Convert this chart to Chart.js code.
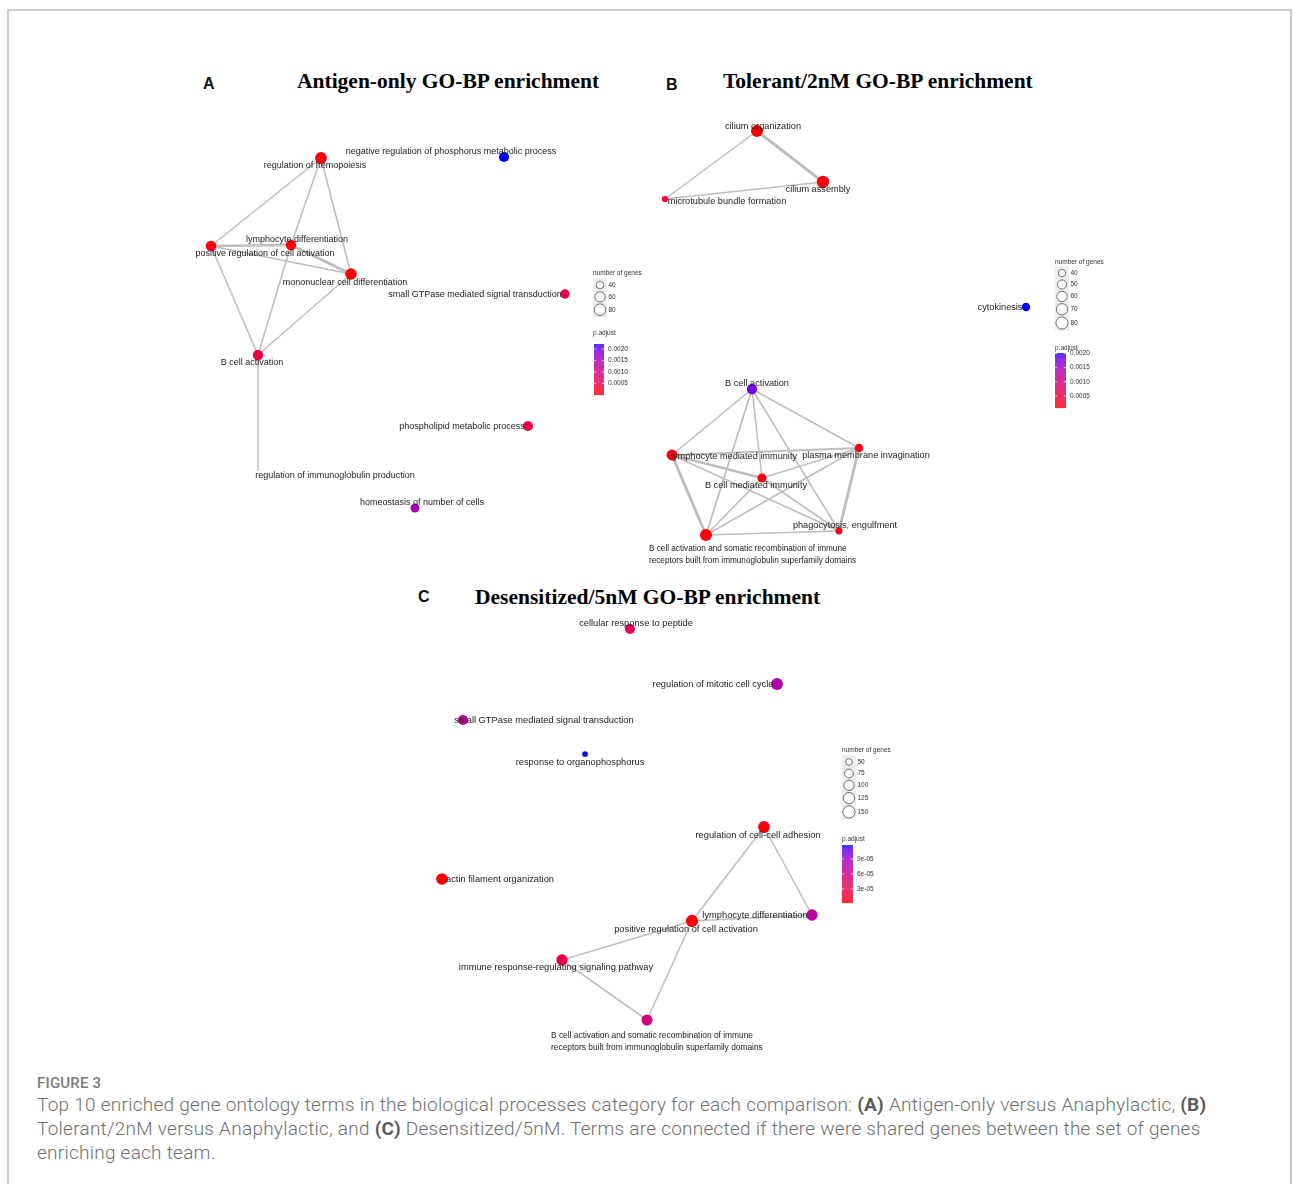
<!DOCTYPE html>
<html>
<head>
<meta charset="utf-8">
<title>GO-BP enrichment maps</title>
<script src="https://cdn.jsdelivr.net/npm/chart.js@4.4.1/dist/chart.umd.min.js"></script>
<style>
  html, body { margin: 0; padding: 0; background: #fff; width: 1293px; height: 1184px; overflow: hidden; position: relative; }
  #frame { position: absolute; left: 7px; top: 9px; width: 1285px; height: 1300px; box-sizing: border-box; border: 2px solid #cbcbcb; }
  canvas { position: absolute; }
  .letter { position: absolute; font: bold 16px "Liberation Sans", Arial, sans-serif; line-height: 16px; color: #111; }
  .title { position: absolute; font: bold 21.5px "Liberation Serif", "Times New Roman", serif; line-height: 21px; color: #000; white-space: nowrap; }
  #figlabel { position: absolute; left: 37px; top: 1073px; font: 500 15px Roboto, "Liberation Sans", sans-serif; line-height: 20px; color: #7a7a7a; letter-spacing: 0.2px; }
  #caption { position: absolute; left: 37px; top: 1093px; font: 300 19px Roboto, "Liberation Sans", sans-serif; line-height: 24px; color: #6e6e6e; white-space: nowrap; letter-spacing: 0.25px; }
  #caption b { font-weight: 700; color: #5a5a5a; }
</style>
</head>
<body>
<div id="frame"></div>

<div class="letter" style="left:203px;top:76px">A</div>
<div class="title" style="left:297px;top:71px">Antigen-only GO-BP enrichment</div>
<div class="letter" style="left:666px;top:77px">B</div>
<div class="title" style="left:723px;top:71px">Tolerant/2nM GO-BP enrichment</div>
<div class="letter" style="left:418px;top:589px">C</div>
<div class="title" style="left:475px;top:587px">Desensitized/5nM GO-BP enrichment</div>

<canvas id="panelA" width="480" height="430" style="left:180px;top:100px"></canvas>
<canvas id="panelB" width="490" height="480" style="left:640px;top:100px"></canvas>
<canvas id="panelC" width="500" height="460" style="left:420px;top:605px"></canvas>

<div id="figlabel">FIGURE 3</div>
<div id="caption">Top 10 enriched gene ontology terms in the biological processes category for each comparison: <b>(A)</b> Antigen-only versus Anaphylactic, <b>(B)</b><br>Tolerant/2nM versus Anaphylactic, and <b>(C)</b> Desensitized/5nM. Terms are connected if there were shared genes between the set of genes<br>enriching each team.</div>

<script>
// ---------------------------------------------------------------
// Panel A: Antigen-only versus Anaphylactic
// ---------------------------------------------------------------
const termsA = [
  'regulation of hemopoiesis',
  'negative regulation of phosphorus metabolic process',
  'lymphocyte differentiation',
  'positive regulation of cell activation',
  'mononuclear cell differentiation',
  'small GTPase mediated signal transduction',
  'B cell activation',
  'phospholipid metabolic process',
  'regulation of immunoglobulin production',
  'homeostasis of number of cells'
];
// network layout coordinates
const layoutXA = [141, 324, 111, 31, 171, 385, 78, 348, 78, 235];
const layoutYA = [58, 57, 145, 146, 174, 194, 255, 326, 371, 408];
// number of genes (null = no marker drawn)
const countsA = [86, 60, 62, 66, 80, 52, 62, 58, null, 48];
const padjA = [7e-5, 2.22e-3, 2.5e-5, 9e-5, 2e-6, 4.9e-4, 4.4e-4, 4.5e-4, null, 1.51e-3];
// term-term edges (shared genes) and their similarity weight
const edgeFromA = [0, 0, 2, 0, 3, 3, 2, 3, 4, 6];
const edgeToA   = [3, 2, 6, 4, 2, 4, 4, 6, 6, 8];
const edgeSimA  = [0.25, 0.25, 0.25, 0.25, 0.6, 0.25, 0.75, 0.25, 0.25, 0.25];
const sizeBreaksA = [40, 60, 80];
const padjBreaksA = [0.0005, 0.0010, 0.0015, 0.0020];
const padjTickLabelsA = ['0.0005', '0.0010', '0.0015', '0.0020'];

// ---------------------------------------------------------------
// Panel B: Tolerant/2nM versus Anaphylactic
// ---------------------------------------------------------------
const termsB = [
  'cilium organization',
  'cilium assembly',
  'microtubule bundle formation',
  'cytokinesis',
  'B cell activation',
  'lymphocyte mediated immunity',
  'plasma membrane invagination',
  'B cell mediated immunity',
  'phagocytosis, engulfment',
  'B cell activation and somatic recombination of immune receptors built from immunoglobulin superfamily domains'
];
const layoutXB = [117, 183, 25, 386, 112, 32, 219, 122, 199, 66];
const layoutYB = [31, 82, 99, 207, 289, 355, 348, 378, 431, 435];
const countsB = [78, 84, 37, 45, 60, 66, 46, 50, 39, 78];
const padjB = [7e-5, 9e-5, 3.0e-4, 2.02e-3, 1.77e-3, 1.1e-4, 1.3e-4, 1.1e-4, 1.3e-4, 9e-5];
const edgeFromB = [0, 0, 2, 4, 4, 4, 4, 4, 5, 5, 5, 5, 6, 6, 6, 7, 7, 8];
const edgeToB   = [1, 2, 1, 5, 6, 7, 8, 9, 6, 7, 8, 9, 7, 8, 9, 8, 9, 9];
const edgeSimB  = [0.7, 0.25, 0.25, 0.25, 0.25, 0.25, 0.25, 0.3, 0.45, 0.55, 0.25, 0.7, 0.25, 0.7, 0.25, 0.25, 0.3, 0.3];
const sizeBreaksB = [40, 50, 60, 70, 80];
const padjBreaksB = [0.0005, 0.0010, 0.0015, 0.0020];
const padjTickLabelsB = ['0.0005', '0.0010', '0.0015', '0.0020'];

// ---------------------------------------------------------------
// Panel C: Desensitized/5nM
// ---------------------------------------------------------------
const termsC = [
  'cellular response to peptide',
  'regulation of mitotic cell cycle',
  'small GTPase mediated signal transduction',
  'response to organophosphorus',
  'regulation of cell-cell adhesion',
  'actin filament organization',
  'lymphocyte differentiation',
  'positive regulation of cell activation',
  'immune response-regulating signaling pathway',
  'B cell activation and somatic recombination of immune receptors built from immunoglobulin superfamily domains'
];
const layoutXC = [210, 357, 43, 165, 344, 22, 392, 272, 142, 227];
const layoutYC = [24, 79, 115, 149, 222, 274, 310, 316, 355, 415];
const countsC = [96, 140, 100, 46, 138, 132, 128, 152, 126, 118];
const padjC = [3.5e-5, 7.9e-5, 6.6e-5, 1.18e-4, 5.5e-6, 2e-6, 6.9e-5, 4e-6, 2.5e-5, 5.4e-5];
const edgeFromC = [4, 4, 7, 7, 7, 8];
const edgeToC   = [7, 6, 6, 8, 9, 9];
const edgeSimC  = [0.25, 0.25, 0.25, 0.25, 0.25, 0.25];
const sizeBreaksC = [50, 75, 100, 125, 150];
const padjBreaksC = [3e-5, 6e-5, 9e-5];
const padjTickLabelsC = ['3e-05', '6e-05', '9e-05'];

// ---------------------------------------------------------------
// Presentation: label nudges (px from node), size scales, legend boxes
// ---------------------------------------------------------------
const labelNudgeA = [[-6, 7], [-53, -6], [6, -6], [54, 7], [-6, 8], [-90, 0], [-6, 7], [-66, 0], [77, 4], [7, -6]];
const labelNudgeB = [[6, -5], [-5, 7], [62, 2], [-26, 0], [5, -6], [62, 1], [7, 7], [-6, 7], [6, -6], [-57, 14]];
const labelNudgeC = [[6, -6], [-64, 0], [81, 0], [-5, 8], [-6, 8], [58, 0], [-57, 0], [-6, 8], [-6, 7], [-96, 16]];

const styleA = { sizeLimits: [38, 88], radiusRange: [3.3, 6.0], labelSize: 9, wrappedLabelSize: 8.3, labelShift: 1,
  legend: { x: 413, titleY: 173, firstKeyY: 185, padjTitleY: 233, barX: 414, barY: 244, barW: 10, barH: 51 } };
const styleB = { sizeLimits: [36, 86], radiusRange: [2.6, 6.3], labelSize: 9.2, wrappedLabelSize: 8.2, labelShift: 0,
  legend: { x: 415, titleY: 162, firstKeyY: 173, padjTitleY: 248, barX: 415, barY: 253, barW: 11, barH: 55 } };
const styleC = { sizeLimits: [45, 155], radiusRange: [2.5, 6.2], labelSize: 9.3, wrappedLabelSize: 8.4, labelShift: 0,
  legend: { x: 422, titleY: 145, firstKeyY: 157, padjTitleY: 234, barX: 422, barY: 240, barW: 11, barH: 58 } };

const LABEL_FAMILY = '"Liberation Sans", Arial, sans-serif';
const LEGEND_FONT = '6.5px "Liberation Sans", Arial, sans-serif';
const EDGE_COLOR = '#bebebe';
const WRAP_CHARS = 55;

// ---------------------------------------------------------------
// Colour scale: red (low p.adjust) to blue (high), interpolated in CIELAB
// ---------------------------------------------------------------
function toLinear(c) { c /= 255; return c <= 0.04045 ? c / 12.92 : Math.pow((c + 0.055) / 1.055, 2.4); }
function fromLinear(c) {
  const v = c <= 0.0031308 ? 12.92 * c : 1.055 * Math.pow(c, 1 / 2.4) - 0.055;
  return Math.round(Math.max(0, Math.min(1, v)) * 255);
}
function rgbToLab(rgb) {
  const R = toLinear(rgb[0]), G = toLinear(rgb[1]), B = toLinear(rgb[2]);
  const X = (0.4124564 * R + 0.3575761 * G + 0.1804375 * B) / 0.95047;
  const Y = (0.2126729 * R + 0.7151522 * G + 0.0721750 * B);
  const Z = (0.0193339 * R + 0.1191920 * G + 0.9503041 * B) / 1.08883;
  const f = t => t > 0.008856 ? Math.cbrt(t) : (7.787 * t + 16 / 116);
  const fx = f(X), fy = f(Y), fz = f(Z);
  return [116 * fy - 16, 500 * (fx - fy), 200 * (fy - fz)];
}
function labToRgb(lab) {
  const fy = (lab[0] + 16) / 116, fx = fy + lab[1] / 500, fz = fy - lab[2] / 200;
  const inv = t => { const t3 = t * t * t; return t3 > 0.008856 ? t3 : (t - 16 / 116) / 7.787; };
  const X = inv(fx) * 0.95047, Y = inv(fy), Z = inv(fz) * 1.08883;
  return [
    fromLinear( 3.2404542 * X - 1.5371385 * Y - 0.4985314 * Z),
    fromLinear(-0.9692660 * X + 1.8760108 * Y + 0.0415560 * Z),
    fromLinear( 0.0556434 * X - 0.2040259 * Y + 1.0572252 * Z)
  ];
}
const LAB_LOW = rgbToLab([255, 0, 0]);
const LAB_HIGH = rgbToLab([0, 0, 255]);
function rampColor(t) {
  t = Math.max(0, Math.min(1, t));
  const lab = [0, 1, 2].map(i => LAB_LOW[i] + (LAB_HIGH[i] - LAB_LOW[i]) * t);
  const c = labToRgb(lab);
  return `rgb(${c[0]},${c[1]},${c[2]})`;
}

function wrapWords(text, width) {
  const words = text.split(' ');
  const lines = [];
  let cur = '';
  for (const w of words) {
    if (cur && (cur + ' ' + w).length > width) { lines.push(cur); cur = w; }
    else cur = cur ? cur + ' ' + w : w;
  }
  if (cur) lines.push(cur);
  return lines;
}

// ---------------------------------------------------------------
// One enrichment map per canvas
// ---------------------------------------------------------------
function buildPanel(canvasId, terms, xs, ys, counts, padj, eFrom, eTo, eSim,
                    sizeBreaks, padjBreaks, padjTickLabels, nudges, style) {
  const canvas = document.getElementById(canvasId);
  const W = canvas.width, H = canvas.height;

  const pv = padj.filter(v => v != null);
  const pLo = Math.min(...pv), pHi = Math.max(...pv);
  const colorOf = v => rampColor((v - pLo) / (pHi - pLo));

  const [cLo, cHi] = style.sizeLimits;
  const [rLo, rHi] = style.radiusRange;
  const radiusOf = c => rLo + (rHi - rLo) * Math.sqrt(Math.max(0, Math.min(1, (c - cLo) / (cHi - cLo))));

  const edgeSets = eFrom.map((f, i) => ({
    type: 'scatter',
    showLine: true,
    data: [{ x: xs[f], y: ys[f] }, { x: xs[eTo[i]], y: ys[eTo[i]] }],
    borderColor: EDGE_COLOR,
    borderWidth: 0.8 + 3 * eSim[i],
    pointRadius: 0,
    order: 2,
    clip: false
  }));

  const nodeSet = {
    type: 'scatter',
    data: terms.map((t, i) => ({ x: xs[i], y: ys[i] })),
    pointRadius: counts.map(c => c == null ? 0 : radiusOf(c)),
    backgroundColor: padj.map(v => v == null ? 'rgba(0,0,0,0)' : colorOf(v)),
    borderWidth: 0,
    order: 1,
    clip: false
  };

  const termLabels = {
    id: 'termLabels',
    afterDatasetsDraw(chart) {
      const ctx = chart.ctx, sx = chart.scales.x, sy = chart.scales.y;
      ctx.save();
      ctx.fillStyle = '#1c1c1c';
      ctx.textBaseline = 'middle';
      terms.forEach((t, i) => {
        const px = sx.getPixelForValue(xs[i]);
        const py = sy.getPixelForValue(ys[i]) + style.labelShift;
        const lines = wrapWords(t, WRAP_CHARS);
        const [dx, dy] = nudges[i];
        if (lines.length > 1) {
          ctx.font = `${style.wrappedLabelSize}px ${LABEL_FAMILY}`;
          ctx.textAlign = 'left';
          lines.forEach((ln, k) => ctx.fillText(ln, px + dx, py + dy + k * 12));
        } else {
          ctx.font = `${style.labelSize}px ${LABEL_FAMILY}`;
          ctx.textAlign = 'center';
          ctx.fillText(lines[0], px + dx, py + dy);
        }
      });
      ctx.restore();
    }
  };

  const guides = {
    id: 'guides',
    afterDraw(chart) {
      const ctx = chart.ctx, L = style.legend;
      ctx.save();
      ctx.font = LEGEND_FONT;
      ctx.fillStyle = '#333';
      ctx.textBaseline = 'middle';
      ctx.textAlign = 'left';
      ctx.fillText('number of genes', L.x, L.titleY);

      // size keys
      const radii = sizeBreaks.map(radiusOf);
      const keyH = radii.map(r => Math.max(11.5, 2 * r + 2));
      const centers = [L.firstKeyY];
      for (let i = 1; i < radii.length; i++) centers.push(centers[i - 1] + (keyH[i - 1] + keyH[i]) / 2);
      const boxTop = centers[0] - keyH[0] / 2 - 1;
      const boxBot = centers[centers.length - 1] + keyH[keyH.length - 1] / 2 + 1;
      ctx.fillStyle = '#ededed';
      ctx.fillRect(L.x, boxTop, 14, boxBot - boxTop);
      radii.forEach((r, i) => {
        ctx.beginPath();
        ctx.arc(L.x + 7, centers[i], r, 0, Math.PI * 2);
        ctx.fillStyle = '#ffffff';
        ctx.fill();
        ctx.lineWidth = 0.7;
        ctx.strokeStyle = '#3a3a3a';
        ctx.stroke();
        ctx.fillStyle = '#333';
        ctx.fillText(String(sizeBreaks[i]), L.x + 15.5, centers[i]);
      });

      // colour bar
      ctx.fillText('p.adjust', L.x, L.padjTitleY);
      for (let k = 0; k < L.barH; k += 0.5) {
        const t = 1 - (k + 0.25) / L.barH;
        ctx.fillStyle = rampColor(t);
        ctx.fillRect(L.barX, L.barY + k, L.barW, 0.6);
      }
      padjBreaks.forEach((v, i) => {
        const y = L.barY + (pHi - v) / (pHi - pLo) * L.barH;
        ctx.strokeStyle = '#ffffff';
        ctx.lineWidth = 0.7;
        ctx.beginPath();
        ctx.moveTo(L.barX, y); ctx.lineTo(L.barX + 2.2, y);
        ctx.moveTo(L.barX + L.barW - 2.2, y); ctx.lineTo(L.barX + L.barW, y);
        ctx.stroke();
        ctx.fillStyle = '#333';
        ctx.fillText(padjTickLabels[i], L.barX + L.barW + 4, y);
      });
      ctx.restore();
    }
  };

  return new Chart(canvas.getContext('2d'), {
    type: 'scatter',
    data: { datasets: [...edgeSets, nodeSet] },
    options: {
      responsive: false,
      animation: false,
      devicePixelRatio: 1,
      events: [],
      layout: { padding: 0, autoPadding: false },
      scales: {
        x: { type: 'linear', min: 0, max: W, display: false },
        y: { type: 'linear', min: 0, max: H, reverse: true, display: false }
      },
      plugins: { legend: { display: false }, tooltip: { enabled: false } }
    },
    plugins: [termLabels, guides]
  });
}

buildPanel('panelA', termsA, layoutXA, layoutYA, countsA, padjA, edgeFromA, edgeToA, edgeSimA,
           sizeBreaksA, padjBreaksA, padjTickLabelsA, labelNudgeA, styleA);
buildPanel('panelB', termsB, layoutXB, layoutYB, countsB, padjB, edgeFromB, edgeToB, edgeSimB,
           sizeBreaksB, padjBreaksB, padjTickLabelsB, labelNudgeB, styleB);
buildPanel('panelC', termsC, layoutXC, layoutYC, countsC, padjC, edgeFromC, edgeToC, edgeSimC,
           sizeBreaksC, padjBreaksC, padjTickLabelsC, labelNudgeC, styleC);
</script>
</body>
</html>
